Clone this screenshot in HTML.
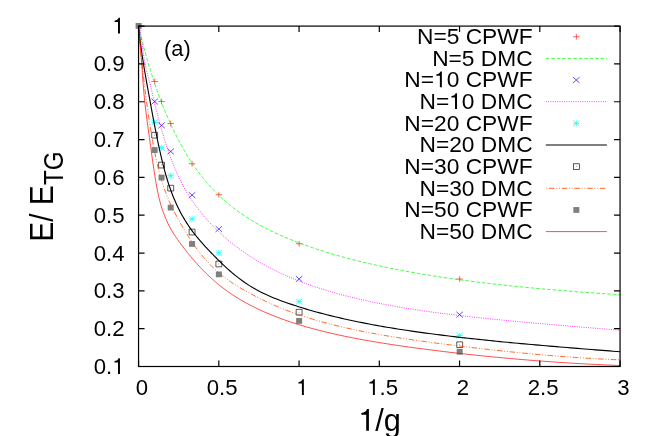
<!DOCTYPE html>
<html><head><meta charset="utf-8"><title>E/E_TG vs 1/g</title>
<style>html,body{margin:0;padding:0;background:#fff;}body{width:654px;height:436px;overflow:hidden;font-family:"Liberation Sans",sans-serif;}svg{display:block;}</style></head>
<body>
<svg width="654" height="436" viewBox="0 0 654 436">
<rect width="654" height="436" fill="#fff"/>
<g fill="none" stroke-linejoin="round">
<path d="M151.4 81.5H157.9M154.65 78.6V84.4" stroke="#ff0000" stroke-width="0.62" fill="none"/>
<path d="M158.31 101.54H164.81M161.56 98.64V104.44" stroke="#ff0000" stroke-width="0.62" fill="none"/>
<path d="M167.46 123.48H173.96M170.71 120.58V126.38" stroke="#ff0000" stroke-width="0.62" fill="none"/>
<path d="M188.81 163.76H195.31M192.06 160.86V166.66" stroke="#ff0000" stroke-width="0.62" fill="none"/>
<path d="M215.62 194.7H222.12M218.87 191.8V197.6" stroke="#ff0000" stroke-width="0.62" fill="none"/>
<path d="M295.88 243.76H302.38M299.13 240.86V246.66" stroke="#ff0000" stroke-width="0.62" fill="none"/>
<path d="M456.42 279.04H462.92M459.67 276.14V281.94" stroke="#ff0000" stroke-width="0.62" fill="none"/>
<path d="M138.6 25.9L139.68 30.64L140.76 35.2L141.85 39.59L142.93 43.85L144.01 47.99L145.09 52L146.18 55.91L147.26 59.73L148.34 63.44L149.42 67.07L150.5 70.61L151.59 74.07L152.67 77.45L153.75 80.75L154.83 83.98L155.92 87.14L157 90.23L158.08 93.25L159.16 96.21L160.24 99.1L161.33 101.93L162.41 104.71L163.49 107.42L164.57 110.08L165.66 112.68L166.74 115.23L167.82 117.73L168.9 120.19L169.99 122.59L171.07 124.95L172.15 127.26L173.23 129.53L174.31 131.76L175.4 133.95L176.48 136.09L177.56 138.2L178.64 140.27L179.73 142.3L180.81 144.29L181.89 146.25L182.97 148.17L184.05 150.06L185.14 151.91L186.22 153.73L187.3 155.52L188.38 157.27L189.47 158.99L190.55 160.69L191.63 162.35L192.71 163.98L193.79 165.58L194.88 167.15L195.96 168.69L197.04 170.2L198.12 171.69L199.21 173.15L200.29 174.58L201.37 175.98L202.45 177.35L203.53 178.7L204.62 180.03L205.7 181.33L206.78 182.6L207.86 183.85L208.95 185.08L210.03 186.29L211.11 187.47L212.19 188.63L213.28 189.78L214.36 190.9L215.44 192L216.52 193.09L217.6 194.15L218.69 195.2L219.77 196.23L220.85 197.24L221.93 198.24L223.02 199.22L224.1 200.18L225.18 201.13L226.26 202.06L227.34 202.98L228.43 203.88L229.51 204.77L230.59 205.65L231.67 206.51L232.76 207.36L233.84 208.2L234.92 209.02L238.45 211.63L241.99 214.12L245.52 216.49L249.06 218.76L252.59 220.93L256.13 223.01L259.66 225L263.2 226.92L266.73 228.76L270.27 230.53L273.8 232.24L277.34 233.88L280.87 235.47L284.41 237.01L287.94 238.49L291.47 239.93L295.01 241.33L298.54 242.68L302.08 244L305.61 245.28L309.15 246.53L312.68 247.75L316.22 248.93L319.75 250.09L323.29 251.21L326.82 252.31L330.36 253.38L333.89 254.43L337.43 255.45L340.96 256.45L344.5 257.42L348.03 258.37L351.56 259.3L355.1 260.2L358.63 261.09L362.17 261.96L365.7 262.8L369.24 263.63L372.77 264.44L376.31 265.23L379.84 266L383.38 266.76L386.91 267.5L390.45 268.22L393.98 268.93L397.52 269.63L401.05 270.31L404.58 270.97L408.12 271.62L411.65 272.26L415.19 272.88L418.72 273.5L422.26 274.1L425.79 274.68L429.33 275.26L432.86 275.82L436.4 276.38L439.93 276.92L443.47 277.45L447 277.97L450.54 278.48L454.07 278.98L457.6 279.47L461.14 279.95L464.67 280.42L468.21 280.89L471.74 281.34L475.28 281.79L478.81 282.23L482.35 282.66L485.88 283.08L489.42 283.49L492.95 283.9L496.49 284.3L500.02 284.69L503.56 285.08L507.09 285.45L510.62 285.83L514.16 286.19L517.69 286.55L521.23 286.9L524.76 287.25L528.3 287.59L531.83 287.92L535.37 288.25L538.9 288.57L542.44 288.89L545.97 289.2L549.51 289.51L553.04 289.81L556.58 290.11L560.11 290.4L563.65 290.69L567.18 290.97L570.71 291.25L574.25 291.53L577.78 291.8L581.32 292.06L584.85 292.32L588.39 292.58L591.92 292.84L595.46 293.09L598.99 293.33L602.53 293.58L606.06 293.81L609.6 294.05L613.13 294.28L616.67 294.51L620.2 294.74" stroke="#00ff00" stroke-width="0.74" stroke-dasharray="3.65 1.83"/>
<path d="M151.4 98.64L157.9 104.44M151.4 104.44L157.9 98.64" stroke="#0000ff" stroke-width="0.66" fill="none"/>
<path d="M158.31 122.47L164.81 128.27M158.31 128.27L164.81 122.47" stroke="#0000ff" stroke-width="0.66" fill="none"/>
<path d="M167.46 148.57L173.96 154.37M167.46 154.37L173.96 148.57" stroke="#0000ff" stroke-width="0.66" fill="none"/>
<path d="M188.81 192.18L195.31 197.98M188.81 197.98L195.31 192.18" stroke="#0000ff" stroke-width="0.66" fill="none"/>
<path d="M215.62 226.11L222.12 231.91M215.62 231.91L222.12 226.11" stroke="#0000ff" stroke-width="0.66" fill="none"/>
<path d="M295.88 276.03L302.38 281.83M295.88 281.83L302.38 276.03" stroke="#0000ff" stroke-width="0.66" fill="none"/>
<path d="M456.42 311.77L462.92 317.57M456.42 317.57L462.92 311.77" stroke="#0000ff" stroke-width="0.66" fill="none"/>
<path d="M138.6 25.9L139.68 27.46L140.76 33.69L141.85 41.74L142.93 50.07L144.01 57.72L145.09 64.11L146.18 69.15L147.26 73.4L148.34 77.37L149.42 81.42L150.5 85.76L151.59 90.32L152.67 94.96L153.75 99.6L154.83 104.14L155.92 108.56L157 112.85L158.08 117.03L159.16 121.08L160.24 125.03L161.33 128.86L162.41 132.58L163.49 136.2L164.57 139.72L165.66 143.14L166.74 146.45L167.82 149.67L168.9 152.8L169.99 155.83L171.07 158.78L172.15 161.63L173.23 164.39L174.31 167.07L175.4 169.67L176.48 172.17L177.56 174.6L178.64 176.95L179.73 179.21L180.81 181.4L181.89 183.52L182.97 185.57L184.05 187.56L185.14 189.49L186.22 191.36L187.3 193.18L188.38 194.95L189.47 196.67L190.55 198.34L191.63 199.97L192.71 201.57L193.79 203.12L194.88 204.63L195.96 206.11L197.04 207.56L198.12 208.98L199.21 210.37L200.29 211.73L201.37 213.07L202.45 214.38L203.53 215.67L204.62 216.94L205.7 218.18L206.78 219.41L207.86 220.62L208.95 221.8L210.03 222.97L211.11 224.13L212.19 225.26L213.28 226.38L214.36 227.48L215.44 228.56L216.52 229.63L217.6 230.68L218.69 231.71L219.77 232.73L220.85 233.74L221.93 234.73L223.02 235.71L224.1 236.68L225.18 237.63L226.26 238.56L227.34 239.49L228.43 240.4L229.51 241.3L230.59 242.19L231.67 243.06L232.76 243.93L233.84 244.78L234.92 245.62L238.45 248.29L241.99 250.85L245.52 253.31L249.06 255.67L252.59 257.94L256.13 260.11L259.66 262.21L263.2 264.23L266.73 266.17L270.27 268.04L273.8 269.84L277.34 271.58L280.87 273.26L284.41 274.87L287.94 276.44L291.47 277.95L295.01 279.4L298.54 280.81L302.08 282.18L305.61 283.49L309.15 284.77L312.68 286L316.22 287.2L319.75 288.35L323.29 289.48L326.82 290.56L330.36 291.61L333.89 292.64L337.43 293.63L340.96 294.59L344.5 295.52L348.03 296.42L351.56 297.3L355.1 298.16L358.63 298.99L362.17 299.79L365.7 300.58L369.24 301.34L372.77 302.08L376.31 302.8L379.84 303.51L383.38 304.19L386.91 304.86L390.45 305.51L393.98 306.14L397.52 306.76L401.05 307.36L404.58 307.94L408.12 308.52L411.65 309.08L415.19 309.62L418.72 310.16L422.26 310.68L425.79 311.19L429.33 311.69L432.86 312.17L436.4 312.65L439.93 313.12L443.47 313.57L447 314.02L450.54 314.46L454.07 314.89L457.6 315.32L461.14 315.73L464.67 316.14L468.21 316.54L471.74 316.93L475.28 317.32L478.81 317.7L482.35 318.08L485.88 318.45L489.42 318.81L492.95 319.17L496.49 319.52L500.02 319.87L503.56 320.22L507.09 320.56L510.62 320.89L514.16 321.23L517.69 321.56L521.23 321.88L524.76 322.2L528.3 322.52L531.83 322.84L535.37 323.15L538.9 323.46L542.44 323.77L545.97 324.08L549.51 324.39L553.04 324.69L556.58 324.99L560.11 325.29L563.65 325.59L567.18 325.89L570.71 326.19L574.25 326.48L577.78 326.78L581.32 327.07L584.85 327.37L588.39 327.66L591.92 327.96L595.46 328.25L598.99 328.54L602.53 328.84L606.06 329.13L609.6 329.43L613.13 329.72L616.67 330.02L620.2 330.31" stroke="#ff00ff" stroke-width="0.85" stroke-dasharray="0.92 1.37"/>
<path d="M151.4 122.35H157.9M154.65 119.45V125.25M151.4 119.45L157.9 125.25M151.4 125.25L157.9 119.45" stroke="#00ffff" stroke-width="0.72" fill="none"/>
<path d="M158.31 147.69H164.81M161.56 144.79V150.59M158.31 144.79L164.81 150.59M158.31 150.59L164.81 144.79" stroke="#00ffff" stroke-width="0.72" fill="none"/>
<path d="M167.46 175.68H173.96M170.71 172.78V178.58M167.46 172.78L173.96 178.58M167.46 178.58L173.96 172.78" stroke="#00ffff" stroke-width="0.72" fill="none"/>
<path d="M188.81 218.98H195.31M192.06 216.08V221.88M188.81 216.08L195.31 221.88M188.81 221.88L195.31 216.08" stroke="#00ffff" stroke-width="0.72" fill="none"/>
<path d="M215.62 252.83H222.12M218.87 249.93V255.73M215.62 249.93L222.12 255.73M215.62 255.73L222.12 249.93" stroke="#00ffff" stroke-width="0.72" fill="none"/>
<path d="M295.88 301.62H302.38M299.13 298.72V304.52M295.88 298.72L302.38 304.52M295.88 304.52L302.38 298.72" stroke="#00ffff" stroke-width="0.72" fill="none"/>
<path d="M456.42 335.47H462.92M459.67 332.57V338.37M456.42 332.57L462.92 338.37M456.42 338.37L462.92 332.57" stroke="#00ffff" stroke-width="0.72" fill="none"/>
<path d="M138.6 25.9L139.68 36.51L140.76 45.39L141.85 53.22L142.93 60.37L144.01 67.08L145.09 73.5L146.18 79.71L147.26 85.79L148.34 91.77L149.42 97.71L150.5 103.62L151.59 109.5L152.67 115.33L153.75 121.07L154.83 126.7L155.92 132.2L157 137.57L158.08 142.78L159.16 147.83L160.24 152.71L161.33 157.4L162.41 161.91L163.49 166.23L164.57 170.35L165.66 174.27L166.74 177.99L167.82 181.52L168.9 184.86L169.99 188.04L171.07 191.06L172.15 193.94L173.23 196.69L174.31 199.31L175.4 201.82L176.48 204.22L177.56 206.53L178.64 208.74L179.73 210.87L180.81 212.92L181.89 214.9L182.97 216.81L184.05 218.65L185.14 220.44L186.22 222.17L187.3 223.85L188.38 225.48L189.47 227.07L190.55 228.61L191.63 230.11L192.71 231.57L193.79 233L194.88 234.4L195.96 235.77L197.04 237.11L198.12 238.42L199.21 239.71L200.29 240.97L201.37 242.22L202.45 243.44L203.53 244.65L204.62 245.84L205.7 247.02L206.78 248.19L207.86 249.34L208.95 250.48L210.03 251.61L211.11 252.74L212.19 253.86L213.28 254.97L214.36 256.07L215.44 257.17L216.52 258.25L217.6 259.33L218.69 260.4L219.77 261.46L220.85 262.51L221.93 263.55L223.02 264.58L224.1 265.6L225.18 266.61L226.26 267.6L227.34 268.58L228.43 269.56L229.51 270.51L230.59 271.46L231.67 272.39L232.76 273.31L233.84 274.21L234.92 275.11L238.45 277.92L241.99 280.57L245.52 283.06L249.06 285.38L252.59 287.54L256.13 289.55L259.66 291.43L263.2 293.19L266.73 294.85L270.27 296.42L273.8 297.9L277.34 299.31L280.87 300.66L284.41 301.95L287.94 303.2L291.47 304.4L295.01 305.58L298.54 306.71L302.08 307.82L305.61 308.89L309.15 309.93L312.68 310.95L316.22 311.93L319.75 312.89L323.29 313.83L326.82 314.74L330.36 315.62L333.89 316.49L337.43 317.33L340.96 318.15L344.5 318.95L348.03 319.73L351.56 320.49L355.1 321.23L358.63 321.96L362.17 322.67L365.7 323.36L369.24 324.03L372.77 324.69L376.31 325.34L379.84 325.97L383.38 326.59L386.91 327.19L390.45 327.79L393.98 328.37L397.52 328.93L401.05 329.49L404.58 330.03L408.12 330.57L411.65 331.09L415.19 331.6L418.72 332.11L422.26 332.6L425.79 333.08L429.33 333.56L432.86 334.03L436.4 334.48L439.93 334.93L443.47 335.38L447 335.81L450.54 336.24L454.07 336.66L457.6 337.07L461.14 337.48L464.67 337.88L468.21 338.28L471.74 338.67L475.28 339.05L478.81 339.43L482.35 339.8L485.88 340.17L489.42 340.53L492.95 340.89L496.49 341.24L500.02 341.59L503.56 341.94L507.09 342.28L510.62 342.61L514.16 342.94L517.69 343.27L521.23 343.6L524.76 343.92L528.3 344.24L531.83 344.55L535.37 344.87L538.9 345.18L542.44 345.48L545.97 345.79L549.51 346.09L553.04 346.39L556.58 346.68L560.11 346.98L563.65 347.27L567.18 347.56L570.71 347.85L574.25 348.14L577.78 348.42L581.32 348.7L584.85 348.99L588.39 349.27L591.92 349.55L595.46 349.82L598.99 350.1L602.53 350.38L606.06 350.65L609.6 350.92L613.13 351.2L616.67 351.47L620.2 351.74" stroke="#000000" stroke-width="1.12"/>
<rect x="151.7" y="132.36" width="5.9" height="5.7" stroke="#000" stroke-width="0.65" fill="none"/><rect x="154.3" y="134.86" width="0.7" height="0.7" fill="#555"/>
<rect x="158.61" y="162.24" width="5.9" height="5.7" stroke="#000" stroke-width="0.65" fill="none"/><rect x="161.21" y="164.74" width="0.7" height="0.7" fill="#555"/>
<rect x="167.76" y="185.31" width="5.9" height="5.7" stroke="#000" stroke-width="0.65" fill="none"/><rect x="170.36" y="187.81" width="0.7" height="0.7" fill="#555"/>
<rect x="189.11" y="229.18" width="5.9" height="5.7" stroke="#000" stroke-width="0.65" fill="none"/><rect x="191.71" y="231.68" width="0.7" height="0.7" fill="#555"/>
<rect x="215.92" y="261.14" width="5.9" height="5.7" stroke="#000" stroke-width="0.65" fill="none"/><rect x="218.52" y="263.64" width="0.7" height="0.7" fill="#555"/>
<rect x="296.18" y="309.36" width="5.9" height="5.7" stroke="#000" stroke-width="0.65" fill="none"/><rect x="298.78" y="311.86" width="0.7" height="0.7" fill="#555"/>
<rect x="456.72" y="341.89" width="5.9" height="5.7" stroke="#000" stroke-width="0.65" fill="none"/><rect x="459.32" y="344.39" width="0.7" height="0.7" fill="#555"/>
<path d="M138.6 25.9L139.68 38.59L140.76 50.34L141.85 61.29L142.93 71.52L144.01 81.12L145.09 90.15L146.18 98.69L147.26 106.79L148.34 114.48L149.42 121.78L150.5 128.7L151.59 135.25L152.67 141.45L153.75 147.3L154.83 152.82L155.92 158.03L157 162.93L158.08 167.53L159.16 171.85L160.24 175.88L161.33 179.65L162.41 183.17L163.49 186.47L164.57 189.57L165.66 192.51L166.74 195.29L167.82 197.93L168.9 200.46L169.99 202.88L171.07 205.22L172.15 207.47L173.23 209.66L174.31 211.8L175.4 213.88L176.48 215.93L177.56 217.95L178.64 219.93L179.73 221.89L180.81 223.81L181.89 225.7L182.97 227.56L184.05 229.39L185.14 231.19L186.22 232.96L187.3 234.7L188.38 236.41L189.47 238.09L190.55 239.74L191.63 241.36L192.71 242.95L193.79 244.51L194.88 246.05L195.96 247.55L197.04 249.02L198.12 250.47L199.21 251.88L200.29 253.27L201.37 254.63L202.45 255.97L203.53 257.27L204.62 258.55L205.7 259.8L206.78 261.02L207.86 262.21L208.95 263.38L210.03 264.52L211.11 265.63L212.19 266.72L213.28 267.77L214.36 268.81L215.44 269.81L216.52 270.8L217.6 271.75L218.69 272.69L219.77 273.6L220.85 274.5L221.93 275.37L223.02 276.23L224.1 277.06L225.18 277.88L226.26 278.68L227.34 279.47L228.43 280.24L229.51 281L230.59 281.74L231.67 282.47L232.76 283.19L233.84 283.89L234.92 284.59L238.45 286.78L241.99 288.88L245.52 290.9L249.06 292.86L252.59 294.75L256.13 296.6L259.66 298.38L263.2 300.12L266.73 301.8L270.27 303.43L273.8 305L277.34 306.53L280.87 308L284.41 309.43L287.94 310.8L291.47 312.13L295.01 313.41L298.54 314.65L302.08 315.85L305.61 317L309.15 318.12L312.68 319.2L316.22 320.25L319.75 321.26L323.29 322.24L326.82 323.19L330.36 324.11L333.89 325.01L337.43 325.87L340.96 326.72L344.5 327.54L348.03 328.33L351.56 329.1L355.1 329.86L358.63 330.59L362.17 331.3L365.7 332L369.24 332.68L372.77 333.34L376.31 333.98L379.84 334.61L383.38 335.23L386.91 335.83L390.45 336.42L393.98 337L397.52 337.56L401.05 338.12L404.58 338.66L408.12 339.19L411.65 339.71L415.19 340.23L418.72 340.73L422.26 341.23L425.79 341.71L429.33 342.19L432.86 342.67L436.4 343.14L439.93 343.6L443.47 344.05L447 344.5L450.54 344.95L454.07 345.38L457.6 345.82L461.14 346.25L464.67 346.68L468.21 347.1L471.74 347.52L475.28 347.94L478.81 348.35L482.35 348.76L485.88 349.16L489.42 349.56L492.95 349.95L496.49 350.34L500.02 350.72L503.56 351.1L507.09 351.47L510.62 351.84L514.16 352.2L517.69 352.56L521.23 352.91L524.76 353.25L528.3 353.59L531.83 353.92L535.37 354.25L538.9 354.57L542.44 354.88L545.97 355.18L549.51 355.48L553.04 355.77L556.58 356.06L560.11 356.33L563.65 356.6L567.18 356.87L570.71 357.12L574.25 357.37L577.78 357.61L581.32 357.84L584.85 358.07L588.39 358.28L591.92 358.49L595.46 358.69L598.99 358.89L602.53 359.07L606.06 359.25L609.6 359.42L613.13 359.58L616.67 359.73L620.2 359.87" stroke="#ff4d00" stroke-width="0.85" stroke-dasharray="5.5 1.8 0.9 1.8 0.9 1.8"/>
<rect x="135.6" y="23" width="6" height="5.8" fill="#7f7f7f"/>
<rect x="151.65" y="147.17" width="6" height="5.8" fill="#7f7f7f"/>
<rect x="158.56" y="174.67" width="6" height="5.8" fill="#7f7f7f"/>
<rect x="167.71" y="204.7" width="6" height="5.8" fill="#7f7f7f"/>
<rect x="189.06" y="241.05" width="6" height="5.8" fill="#7f7f7f"/>
<rect x="215.87" y="271.49" width="6" height="5.8" fill="#7f7f7f"/>
<rect x="296.13" y="318.01" width="6" height="5.8" fill="#7f7f7f"/>
<rect x="456.67" y="348.88" width="6" height="5.8" fill="#7f7f7f"/>
<path d="M138.6 25.9L139.68 40.9L140.76 52.48L141.85 65.69L142.93 81.1L144.01 93.98L145.09 104.55L146.18 113.63L147.26 121.87L148.34 129.71L149.42 137.52L150.5 145.47L151.59 153.43L152.67 161.23L153.75 168.72L154.83 175.79L155.92 182.36L157 188.34L158.08 193.67L159.16 198.39L160.24 202.59L161.33 206.35L162.41 209.75L163.49 212.85L164.57 215.7L165.66 218.36L166.74 220.84L167.82 223.16L168.9 225.34L169.99 227.4L171.07 229.36L172.15 231.22L173.23 232.99L174.31 234.7L175.4 236.34L176.48 237.93L177.56 239.48L178.64 240.99L179.73 242.48L180.81 243.95L181.89 245.4L182.97 246.83L184.05 248.24L185.14 249.63L186.22 251.01L187.3 252.37L188.38 253.71L189.47 255.04L190.55 256.35L191.63 257.64L192.71 258.91L193.79 260.17L194.88 261.41L195.96 262.63L197.04 263.83L198.12 265.02L199.21 266.2L200.29 267.35L201.37 268.49L202.45 269.62L203.53 270.73L204.62 271.82L205.7 272.9L206.78 273.96L207.86 275L208.95 276.03L210.03 277.04L211.11 278.04L212.19 279.02L213.28 279.99L214.36 280.94L215.44 281.88L216.52 282.8L217.6 283.7L218.69 284.59L219.77 285.47L220.85 286.33L221.93 287.18L223.02 288.01L224.1 288.83L225.18 289.63L226.26 290.43L227.34 291.21L228.43 291.97L229.51 292.73L230.59 293.47L231.67 294.2L232.76 294.92L233.84 295.63L234.92 296.33L238.45 298.53L241.99 300.63L245.52 302.63L249.06 304.55L252.59 306.37L256.13 308.12L259.66 309.8L263.2 311.41L266.73 312.95L270.27 314.44L273.8 315.86L277.34 317.24L280.87 318.57L284.41 319.85L287.94 321.08L291.47 322.27L295.01 323.42L298.54 324.53L302.08 325.61L305.61 326.65L309.15 327.65L312.68 328.63L316.22 329.57L319.75 330.49L323.29 331.38L326.82 332.24L330.36 333.07L333.89 333.88L337.43 334.67L340.96 335.44L344.5 336.19L348.03 336.91L351.56 337.62L355.1 338.31L358.63 338.98L362.17 339.63L365.7 340.27L369.24 340.9L372.77 341.51L376.31 342.1L379.84 342.68L383.38 343.25L386.91 343.81L390.45 344.36L393.98 344.89L397.52 345.42L401.05 345.93L404.58 346.44L408.12 346.94L411.65 347.43L415.19 347.91L418.72 348.38L422.26 348.85L425.79 349.31L429.33 349.76L432.86 350.21L436.4 350.65L439.93 351.09L443.47 351.52L447 351.94L450.54 352.36L454.07 352.77L457.6 353.18L461.14 353.58L464.67 353.97L468.21 354.36L471.74 354.74L475.28 355.12L478.81 355.49L482.35 355.86L485.88 356.21L489.42 356.57L492.95 356.92L496.49 357.26L500.02 357.59L503.56 357.92L507.09 358.25L510.62 358.56L514.16 358.88L517.69 359.18L521.23 359.48L524.76 359.78L528.3 360.07L531.83 360.35L535.37 360.63L538.9 360.9L542.44 361.16L545.97 361.42L549.51 361.68L553.04 361.93L556.58 362.17L560.11 362.4L563.65 362.63L567.18 362.86L570.71 363.08L574.25 363.29L577.78 363.5L581.32 363.7L584.85 363.9L588.39 364.09L591.92 364.27L595.46 364.45L598.99 364.63L602.53 364.79L606.06 364.95L609.6 365.11L613.13 365.26L616.67 365.41L620.2 365.55" stroke="#ff0000" stroke-width="0.7"/>
</g>
<g stroke="#000" stroke-width="1.2" fill="none">
<rect x="138.55" y="26.1" width="481.5" height="340.4"/>
<path d="M138.55 366.5v-6M138.55 26.1v6M218.8 366.5v-6M218.8 26.1v6M299.05 366.5v-6M299.05 26.1v6M379.3 366.5v-6M379.3 26.1v6M459.55 366.5v-6M459.55 26.1v6M539.8 366.5v-6M539.8 26.1v6M620.05 366.5v-6M620.05 26.1v6M138.55 366.5h6M620.05 366.5h-6M138.55 328.68h6M620.05 328.68h-6M138.55 290.86h6M620.05 290.86h-6M138.55 253.03h6M620.05 253.03h-6M138.55 215.21h6M620.05 215.21h-6M138.55 177.39h6M620.05 177.39h-6M138.55 139.57h6M620.05 139.57h-6M138.55 101.74h6M620.05 101.74h-6M138.55 63.92h6M620.05 63.92h-6M138.55 26.1h6M620.05 26.1h-6"/>
</g>
<g font-family="'Liberation Sans', sans-serif" fill="#000" opacity="0.999">
<text transform="translate(124.6 374) scale(0.982 1)" font-size="22.6" text-anchor="end">0.<tspan visibility="hidden">1</tspan></text><path transform="translate(112.26 374) scale(0.02219 -0.02226)" d="M259 0V518H102V581C196 590 268 640 286 709H347V0Z"/>
<text transform="translate(124.6 336.18) scale(0.982 1)" font-size="22.6" text-anchor="end">0.2</text>
<text transform="translate(124.6 298.36) scale(0.982 1)" font-size="22.6" text-anchor="end">0.3</text>
<text transform="translate(124.6 260.53) scale(0.982 1)" font-size="22.6" text-anchor="end">0.4</text>
<text transform="translate(124.6 222.71) scale(0.982 1)" font-size="22.6" text-anchor="end">0.5</text>
<text transform="translate(124.6 184.89) scale(0.982 1)" font-size="22.6" text-anchor="end">0.6</text>
<text transform="translate(124.6 147.07) scale(0.982 1)" font-size="22.6" text-anchor="end">0.7</text>
<text transform="translate(124.6 109.24) scale(0.982 1)" font-size="22.6" text-anchor="end">0.8</text>
<text transform="translate(124.6 71.42) scale(0.982 1)" font-size="22.6" text-anchor="end">0.9</text>
<text transform="translate(124.6 33.6) scale(0.982 1)" font-size="22.6" text-anchor="end"><tspan visibility="hidden">1</tspan></text><path transform="translate(112.26 33.6) scale(0.02219 -0.02226)" d="M259 0V518H102V581C196 590 268 640 286 709H347V0Z"/>
<text transform="translate(141.8 395.1) scale(0.982 1)" font-size="22.6" text-anchor="middle">0</text>
<text transform="translate(222.07 395.1) scale(0.982 1)" font-size="22.6" text-anchor="middle">0.5</text>
<text transform="translate(302.33 395.1) scale(0.982 1)" font-size="22.6" text-anchor="middle"><tspan visibility="hidden">1</tspan></text><path transform="translate(296.16 395.1) scale(0.02219 -0.02226)" d="M259 0V518H102V581C196 590 268 640 286 709H347V0Z"/>
<text transform="translate(382.6 395.1) scale(0.982 1)" font-size="22.6" text-anchor="middle"><tspan visibility="hidden">1</tspan>.5</text><path transform="translate(367.17 395.1) scale(0.02219 -0.02226)" d="M259 0V518H102V581C196 590 268 640 286 709H347V0Z"/>
<text transform="translate(462.87 395.1) scale(0.982 1)" font-size="22.6" text-anchor="middle">2</text>
<text transform="translate(543.13 395.1) scale(0.982 1)" font-size="22.6" text-anchor="middle">2.5</text>
<text transform="translate(623.4 395.1) scale(0.982 1)" font-size="22.6" text-anchor="middle">3</text>
<text transform="translate(532.6 43.95) scale(1.016 1)" font-size="22.4" text-anchor="end">N=5 CPWF</text>
<text transform="translate(532.6 65.6) scale(1.016 1)" font-size="22.4" text-anchor="end">N=5 DMC</text>
<text transform="translate(532.6 87.25) scale(1.016 1)" font-size="22.4" text-anchor="end">N=<tspan visibility="hidden">1</tspan>0 CPWF</text><path transform="translate(433.97 87.25) scale(0.02276 -0.02206)" d="M259 0V518H102V581C196 590 268 640 286 709H347V0Z"/>
<text transform="translate(532.6 108.9) scale(1.016 1)" font-size="22.4" text-anchor="end">N=<tspan visibility="hidden">1</tspan>0 DMC</text><path transform="translate(449.13 108.9) scale(0.02276 -0.02206)" d="M259 0V518H102V581C196 590 268 640 286 709H347V0Z"/>
<text transform="translate(532.6 130.55) scale(1.016 1)" font-size="22.4" text-anchor="end">N=20 CPWF</text>
<text transform="translate(532.6 152.2) scale(1.016 1)" font-size="22.4" text-anchor="end">N=20 DMC</text>
<text transform="translate(532.6 173.85) scale(1.016 1)" font-size="22.4" text-anchor="end">N=30 CPWF</text>
<text transform="translate(532.6 195.5) scale(1.016 1)" font-size="22.4" text-anchor="end">N=30 DMC</text>
<text transform="translate(532.6 217.15) scale(1.016 1)" font-size="22.4" text-anchor="end">N=50 CPWF</text>
<text transform="translate(532.6 238.8) scale(1.016 1)" font-size="22.4" text-anchor="end">N=50 DMC</text>
<text transform="translate(164 55.9) scale(0.975 1)" font-size="22.4" text-anchor="start">(a)</text>
<text transform="translate(379.6 430.7) scale(0.963 1)" font-size="31.9" text-anchor="middle"><tspan visibility="hidden">1</tspan>/g</text><path transform="translate(358.25 430.7) scale(0.03072 -0.03062)" d="M259 0V518H102V581C196 590 268 640 286 709H347V0Z"/>
<text transform="translate(53.1 241.8) rotate(-90) scale(0.929 1)" font-size="32.3" text-anchor="start">E/ E</text>
<text transform="translate(62.8 185.09) rotate(-90) scale(0.9 1)" font-size="27.0" text-anchor="start">TG</text>
</g>
<g fill="none">
<path d="M573.1 36.75H579.6M576.35 33.85V39.65" stroke="#ff0000" stroke-width="0.62" fill="none"/>
<path d="M545.8 58.4H606.9" stroke="#00ff00" stroke-width="0.74" stroke-dasharray="3.65 1.83"/>
<path d="M573.1 77.15L579.6 82.95M573.1 82.95L579.6 77.15" stroke="#0000ff" stroke-width="0.66" fill="none"/>
<path d="M545.8 101.7H606.9" stroke="#ff00ff" stroke-width="0.85" stroke-dasharray="0.92 1.37"/>
<path d="M573.1 123.35H579.6M576.35 120.45V126.25M573.1 120.45L579.6 126.25M573.1 126.25L579.6 120.45" stroke="#00ffff" stroke-width="0.72" fill="none"/>
<path d="M545.8 145H606.9" stroke="#000000" stroke-width="1.12"/>
<rect x="573.4" y="163.8" width="5.9" height="5.7" stroke="#000" stroke-width="0.65" fill="none"/><rect x="576" y="166.3" width="0.7" height="0.7" fill="#555"/>
<path d="M545.8 188.3H606.9" stroke="#ff4d00" stroke-width="0.85" stroke-dasharray="5.5 1.8 0.9 1.8 0.9 1.8" stroke-dashoffset="9.45"/>
<rect x="573.35" y="207.05" width="6" height="5.8" fill="#7f7f7f"/>
<path d="M545.8 231.6H606.9" stroke="#ff0000" stroke-width="0.7"/>
</g>
</svg>
</body></html>
